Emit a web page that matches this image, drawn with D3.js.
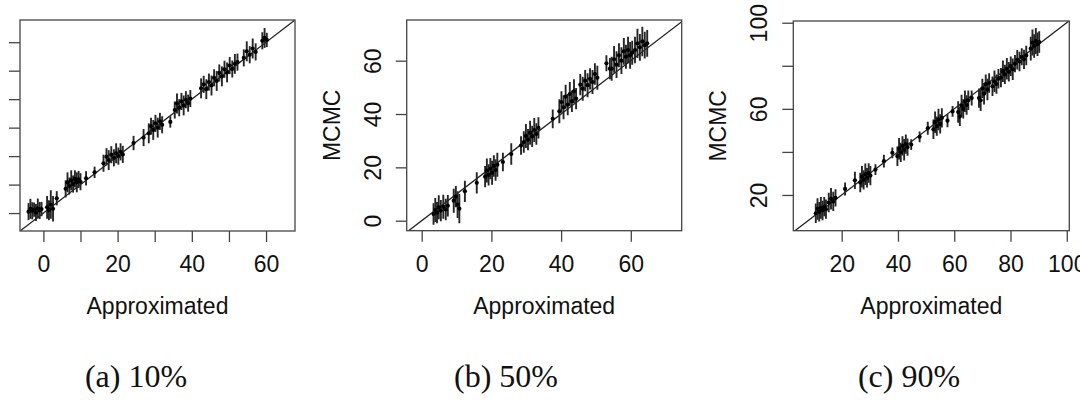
<!DOCTYPE html>
<html>
<head>
<meta charset="utf-8">
<script src="https://cdn.jsdelivr.net/npm/d3@7"></script>
<style>
  body { margin: 0; background: #fff; }
  svg { display: block; }
  .tick text, .lab { font-family: "Liberation Sans", Arial, sans-serif; fill: #111; }
  .cap { font-family: "Liberation Serif", "Times New Roman", serif; fill: #111; }
</style>
</head>
<body>
<svg width="1080" height="400"></svg>
<script>
/* values: approximated mean, MCMC mean, half width of the MCMC interval */
var approx10 = [-4.0,-3.5,-3.0,-2.5,-2.0,-1.5,-1.0,-0.5, 1.0,1.5,2.0,2.6, 3.6,
  6.0,6.5,7.0,7.5,8.0,8.5,9.0,9.5,10.0, 11.5, 13.8,
  16.2,17.0,17.6,18.3,19.0,19.6,20.2,20.8,21.4, 24.3, 27.0,
  28.4,29.0,29.6,30.2,30.8,31.4,32.0, 34.2,
  35.4,36.0,36.6,37.2,37.8,38.4,39.0,39.6,
  42.5,43.2,43.9,44.6,45.3,46.0,46.7,47.4,48.1,48.8,49.5,50.2,50.9,51.6,52.3,
  54.0,54.8,55.6,56.4,57.2, 59.0,59.6,60.2];
var mcmc10 = [0.5,1.5,0.8,1.2,0.2,1.6,0.9,1.4, 2.0,1.0,3.0,1.5, 5.2,
  8.5,10.8,9.5,11.5,10.2,12.0,10.8,11.8,11.0, 12.2, 14.3,
  17.5,19.8,18.6,20.5,19.4,21.0,20.0,21.5,20.6, 24.6, 26.5,
  28.0,30.5,29.2,31.5,30.0,32.2,31.0, 32.0,
  36.2,38.5,37.0,39.2,37.8,39.8,38.6,40.2,
  43.8,45.2,43.5,46.0,44.8,47.5,46.4,49.2,48.0,50.5,49.4,51.8,50.6,52.4,53.0,
  54.5,56.8,55.6,57.8,56.6, 60.5,61.5,60.8];
var err10 = [3,3.5,3,2.5,3,3.5,3,2.5, 4,3.5,5,4.5, 2.5,
  3,3.5,3,3.5,3,3,3.5,3,3, 2.5, 2,
  3,3,3.5,3,3,3.5,3,3,3, 2.5, 3,
  3.5,3,3.5,3,3.5,3,3, 2,
  3,3.5,3,3,3.5,3,3,3,
  3.5,3,3.5,3,3.5,3,3.5,3,3.5,3,3.5,3,3,3.5,3,
  3,3.5,3,3.5,3, 3,3.5,2.5];

var approx50 = [3.4,3.9,4.4,4.9,5.5,6.2,6.9,7.5, 9.2,9.8,10.3,10.8, 12.4, 15.8,
  18.2,18.7,19.2,19.7,20.2,20.7,21.2,21.7, 23.3, 25.7, 28.5,
  29.3,29.9,30.5,31.1,31.7,32.3,32.9,33.5, 37.6,
  39.5,40.1,40.7,41.3,41.9,42.5,43.1,43.7,44.3,
  45.5,46.2,46.9,47.6,48.3,49.0,49.7,50.4, 53.0,54.0,
  54.5,55.2,55.9,56.6,57.3,58.0,58.6,59.2,59.8,60.4,
  61.2,61.9,62.6,63.3,64.0,64.7];
var mcmc50 = [2.5,4.0,3.0,5.0,3.8,5.2,4.2,5.6, 7.5,9.0,6.0,4.5, 11.0, 14.2,
  16.5,18.8,17.2,19.5,18.0,20.5,19.0,21.0, 22.0, 25.0, 28.2,
  29.5,31.8,30.4,33.0,31.6,34.0,32.5,34.8, 38.2,
  41.0,44.5,42.5,46.5,43.5,47.5,44.8,48.5,45.8,
  51.0,49.5,52.5,50.8,53.2,52.0,55.0,53.6, 59.0,57.0,
  57.0,60.5,58.5,62.0,60.0,63.5,61.5,64.0,62.0,63.0,
  64.0,66.5,65.0,67.2,65.8,66.5];
var err50 = [4,4.5,4,4.5,4,4.5,4,4, 4.5,4,5,5.5, 4, 4,
  4,4.5,4,4,4.5,4,4,4.5, 3.5, 4, 3.5,
  4,4.5,4,4.5,4,4.5,4,4, 3.5,
  4.5,4,4.5,4.5,4,4.5,4,4.5,4,
  4,4.5,4,4.5,4,4.5,4,4.5, 3,4,
  4.5,5,5,4.5,5,5,4.5,5,5,4.5,
  5,5.5,5,5.5,5,5];

var approx90 = [10.8,11.4,12.0,12.6,13.2,13.8,14.4, 15.4,16.2,17.0,17.8, 21.2, 24.7,
  26.6,27.2,27.8,28.4,29.0,29.6,30.2, 32.0, 35.0, 38.0,
  39.8,40.4,41.0,41.6,42.2,42.8,43.4, 44.7, 47.7, 50.6,
  52.6,53.2,53.8,54.4,55.0,55.6, 57.6, 59.4,
  61.4,62.0,62.6,63.2,63.8,64.4,65.0, 66.2,
  68.8,69.4,70.0,70.6,71.2,71.8,72.4, 73.6,74.3,75.0,75.7,
  76.6,77.3,78.0,78.7,79.4,80.1,80.8, 81.6,82.4,83.2,84.0,84.8,85.6,
  87.2,87.8,88.4,89.0,89.6,90.2];
var mcmc90 = [11.5,13.5,12.2,14.0,12.8,14.6,13.4, 16.5,18.2,17.0,18.6, 22.8, 26.8,
  25.8,28.5,27.0,29.6,28.0,30.2,29.0, 31.8, 35.7, 39.6,
  38.0,41.5,39.8,42.8,41.0,43.6,42.2, 43.4, 47.0, 51.0,
  50.5,53.8,52.0,55.0,53.0,55.8, 54.5, 58.8,
  58.5,56.5,61.5,60.0,63.5,61.8,64.0, 65.0,
  65.0,64.0,69.5,67.0,71.5,69.0,72.0, 70.5,72.8,71.5,74.0,
  74.5,77.5,76.0,78.6,77.2,79.8,78.4, 81.0,82.8,82.0,84.2,83.0,84.8,
  88.0,90.8,89.2,91.5,90.0,91.0];
var err90 = [4.5,5,4.5,5,4.5,4.5,4.5, 4.5,5,4.5,4, 3, 4,
  4.5,5,4.5,5,4.5,4.5,4.5, 2.5, 3, 2.5,
  4.5,5,4.5,4.5,5,4.5,4, 2.5, 2.5, 3,
  4.5,5,4.5,5,4.5,4.5, 3, 2.5,
  5,4.5,5,4.5,5,4.5,4.5, 3.5,
  4.5,5,4.5,5,4.5,5,4.5, 4.5,5,4.5,4.5,
  4.5,5,4.5,5,4.5,4.5,5, 4,4.5,4.5,4,4.5,4.5,
  5.5,6,5.5,6,5.5,5];

var ticks10 = [0, 10, 20, 30, 40, 50, 60];
var xLabels10 = [0, 20, 40, 60];
var yLabels10 = [];
var ticks50 = [0, 20, 40, 60];
var ticks90 = [20, 40, 60, 80, 100];
var yLabels90 = [20, 60, 100];
var captions = ['(a) 10%', '(b) 50%', '(c) 90%'];

var svg = d3.select('svg');

function zip(xs, ys, es) {
  return xs.map(function(x, i) { return { x: x, y: ys[i], e: es[i] }; });
}

function drawPanel(p, idx) {
  var x = d3.scaleLinear().domain(p.xdom).range([p.left, p.right]);
  var y = d3.scaleLinear().domain(p.ydom).range([p.bottom, p.top]);
  var g = svg.append('g');

  g.append('clipPath').attr('id', 'clip' + idx)
    .append('rect')
    .attr('x', p.left).attr('y', p.top)
    .attr('width', p.right - p.left).attr('height', p.bottom - p.top);

  var plot = g.append('g').attr('clip-path', 'url(#clip' + idx + ')');
  var lo = Math.min(p.xdom[0], p.ydom[0]), hi = Math.max(p.xdom[1], p.ydom[1]);
  plot.append('line')
    .attr('x1', x(lo)).attr('y1', y(lo))
    .attr('x2', x(hi)).attr('y2', y(hi))
    .attr('stroke', '#222').attr('stroke-width', 1.3);

  plot.selectAll('line.bar').data(p.data).enter().append('line')
    .attr('class', 'bar')
    .attr('x1', function(d) { return x(d.x); })
    .attr('x2', function(d) { return x(d.x); })
    .attr('y1', function(d) { return y(d.y - d.e); })
    .attr('y2', function(d) { return y(d.y + d.e); })
    .attr('stroke', '#262626').attr('stroke-width', 1.9);

  plot.selectAll('circle').data(p.data).enter().append('circle')
    .attr('cx', function(d) { return x(d.x); })
    .attr('cy', function(d) { return y(d.y); })
    .attr('r', 2.1).attr('fill', '#000');

  g.append('rect')
    .attr('x', p.left).attr('y', p.top)
    .attr('width', p.right - p.left).attr('height', p.bottom - p.top)
    .attr('fill', 'none').attr('stroke', '#444').attr('stroke-width', 1.3);

  var xa = g.append('g').attr('transform', 'translate(0,' + p.bottom + ')')
    .call(d3.axisBottom(x).tickValues(p.xticks).tickSize(11).tickSizeOuter(0)
      .tickFormat(function(v) { return p.xlab.indexOf(v) >= 0 ? v : ''; }));
  var ya = g.append('g').attr('transform', 'translate(' + p.left + ',0)')
    .call(d3.axisLeft(y).tickValues(p.yticks).tickSize(11).tickSizeOuter(0)
      .tickFormat(function(v) { return p.ylab.indexOf(v) >= 0 ? v : ''; }));

  [xa, ya].forEach(function(a) {
    a.select('.domain').remove();
    a.selectAll('.tick line').attr('stroke', '#444').attr('stroke-width', 1.3);
    a.selectAll('.tick text').attr('font-size', 23);
  });
  xa.selectAll('.tick text').attr('y', 41).attr('dy', 0);
  ya.selectAll('.tick text')
    .attr('transform', 'rotate(-90)')
    .attr('x', 0).attr('y', -26).attr('dy', 0)
    .attr('text-anchor', 'middle');

  var cx = (p.left + p.right) / 2;
  g.append('text').attr('class', 'lab')
    .attr('x', cx).attr('y', p.bottom + 83)
    .attr('text-anchor', 'middle').attr('font-size', 23)
    .text('Approximated');

  // the first panel's y label sits left of the page edge, as in the reference
  var cy = (p.top + p.bottom) / 2;
  g.append('text').attr('class', 'lab')
    .attr('transform', 'translate(' + (p.left - 67) + ',' + cy + ') rotate(-90)')
    .attr('text-anchor', 'middle').attr('font-size', 23)
    .text('MCMC');

  svg.append('text').attr('class', 'cap')
    .attr('x', p.capX).attr('y', 387)
    .attr('text-anchor', 'middle').attr('font-size', 32)
    .text(captions[idx]);
}

var panels = [
  { left: 20, right: 295, top: 20, bottom: 231,
    xdom: [-6.3, 67.8], ydom: [-6.3, 67.8],
    xticks: ticks10, yticks: ticks10, xlab: xLabels10, ylab: yLabels10,
    data: zip(approx10, mcmc10, err10), capX: 136 },
  { left: 406.7, right: 681.7, top: 20, bottom: 230.7,
    xdom: [-4.3, 74.6], ydom: [-3.75, 75.25],
    xticks: ticks50, yticks: ticks50, xlab: ticks50, ylab: ticks50,
    data: zip(approx50, mcmc50, err50), capX: 506 },
  { left: 793.3, right: 1069.3, top: 21, bottom: 230.7,
    xdom: [2.8, 100.9], ydom: [3.4, 100.8],
    xticks: ticks90, yticks: ticks90, xlab: ticks90, ylab: yLabels90,
    data: zip(approx90, mcmc90, err90), capX: 909 }
];

panels.forEach(drawPanel);
</script>
</body>
</html>
